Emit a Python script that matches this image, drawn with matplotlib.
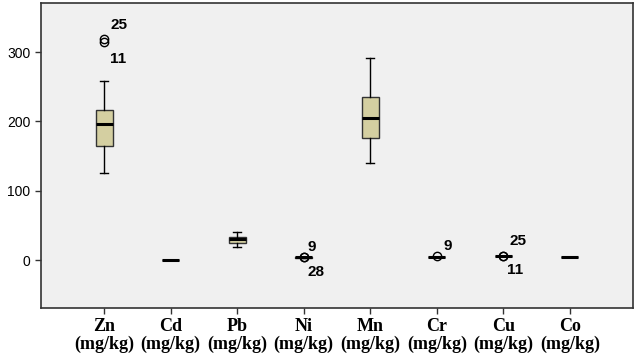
import numpy as np
import matplotlib.pyplot as plt

# heavy metal summary stats (mg/kg)
metals = ['Zn', 'Cd', 'Pb', 'Ni', 'Mn', 'Cr', 'Cu', 'Co']
whislo = [126, 1, 19, 3.5, 140, 5, 5.5, 4]
q1     = [164, 1, 25, 3.5, 176, 5, 5.5, 4]
med    = [197, 1, 30, 4, 205, 5, 6, 4]
q3     = [217, 1, 34, 4.5, 236, 5, 6.5, 4]
whishi = [258, 1, 41, 4.5, 292, 5, 6.5, 4]
fliers = [[319, 314], [], [], [4, 4], [], [5.5], [6, 6], []]
flier_ids = [['25', '11'], [], [], ['9', '28'], [], ['9'], ['25', '11'], []]
# label offsets from the point, in pixels
id_offsets = [[(6, 14), (6, -17)], [], [], [(4, 10), (4, -15)], [],
              [(7, 10)], [(6, 15), (4, -14)], []]

stats = []
for i, m in enumerate(metals):
    stats.append(dict(label=m, whislo=whislo[i], q1=q1[i], med=med[i],
                      q3=q3[i], whishi=whishi[i], fliers=fliers[i]))

fig = plt.figure(figsize=(6.41, 3.62), dpi=100)
ax = fig.add_axes([0.064, 0.149, 0.9235, 0.843])
ax.set_facecolor('#f0f0f0')

pos = np.arange(1, len(metals) + 1)
ax.bxp(stats, positions=pos, widths=0.25, patch_artist=True,
       boxprops=dict(facecolor='#d4cfa1', edgecolor='#333333', linewidth=1),
       medianprops=dict(color='black', linewidth=2.2),
       whiskerprops=dict(color='black', linewidth=1),
       capprops=dict(color='black', linewidth=1),
       flierprops=dict(marker='o', markerfacecolor='none',
                       markeredgecolor='black', markersize=6, markeredgewidth=1))

# outlier case numbers
for i in range(len(metals)):
    for j, lab in enumerate(flier_ids[i]):
        ax.annotate(lab, (pos[i], fliers[i][j]), xytext=id_offsets[i][j],
                    textcoords='offset pixels', fontsize=11, fontweight='bold',
                    family='Liberation Sans', va='center', ha='left')

ax.set_xlim(0.05, 8.95)
ax.set_ylim(-69, 371)
ax.set_yticks([0, 100, 200, 300])
ax.set_xticks(pos)
ax.set_xticklabels([m + '\n(mg/kg)' for m in metals], family='Liberation Serif',
                   fontweight='bold', fontsize=13, linespacing=1.0)
for t in ax.get_yticklabels():
    t.set_family('Liberation Sans')
    t.set_fontsize(10)
ax.tick_params(length=4, width=1, color='#333333')
for s in ax.spines.values():
    s.set_linewidth(1.2)
    s.set_color('#333333')

fig.savefig('out.png', dpi=100)
